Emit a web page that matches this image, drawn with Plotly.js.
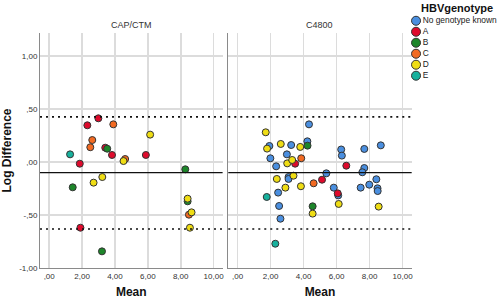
<!DOCTYPE html>
<html>
<head>
<meta charset="utf-8">
<script src="https://cdn.plot.ly/plotly-3.0.1.min.js"></script>
<style>html,body{margin:0;padding:0;background:#fff;}#chart{width:500px;height:300px;}</style>
</head>
<body>
<div id="chart"></div>
<script>
// ---- Data ----
const genotypes = ['No genotype known', 'A', 'B', 'C', 'D', 'E'];
const genoColors = ['#4a8fe0', '#de0a2c', '#1d862a', '#f26a22', '#efdd14', '#17b19d'];
const panelTitles = ['CAP/CTM', 'C4800'];

// CAP/CTM panel
const capMean = [2.32, 2.99, 3.41, 3.82, 5.88, 1.86, 1.90,
                 3.53, 8.28, 1.43, 8.42, 3.21,
                 3.90, 2.62, 2.50, 4.62, 8.50,
                 6.14, 4.52, 3.23, 2.70, 8.42, 8.66, 8.56,
                 1.27];
const capDiff = [0.346, 0.412, 0.135, 0.066, 0.066, -0.016, -0.620,
                 0.125, -0.069, -0.239, -0.371, -0.843,
                 0.355, 0.207, 0.139, 0.028, -0.497,
                 0.258, 0.009, -0.142, -0.195, -0.346, -0.475, -0.620,
                 0.072];
const capGeno = ['A','A','A','A','A','A','A',
                 'B','B','B','B','B',
                 'C','C','C','C','C',
                 'D','D','D','D','D','D','D',
                 'E'];

// C4800 panel
const c48Mean = [4.33, 1.93, 3.25, 4.23, 6.28, 7.68, 8.68, 1.99, 2.99, 6.32, 2.34, 7.68, 7.56, 5.38, 3.09, 3.09, 8.41, 7.98, 5.83, 7.46, 8.48, 8.49, 2.46, 6.10, 2.52, 2.60,
                 3.49, 6.59, 5.12, 6.07,
                 4.24, 4.55,
                 3.86, 4.61,
                 1.71, 1.79, 2.62, 3.80, 3.01, 3.31, 3.39, 2.38, 3.84, 2.90, 6.13, 8.55, 4.55,
                 1.77, 2.29];
const c48Diff = [0.355, 0.151, 0.160, 0.195, 0.118, 0.123, 0.157, 0.035, 0.072, 0.060, -0.041, -0.057, -0.097, -0.107, -0.142, -0.160, -0.163, -0.214, -0.242, -0.242, -0.248, -0.274, -0.289, -0.315, -0.415, -0.535,
                 -0.016, -0.035, -0.167, -0.296,
                 0.154, -0.418,
                 0.035, -0.201,
                 0.280, 0.126, 0.170, 0.142, -0.013, 0.019, -0.129, -0.160, -0.229, -0.242, -0.396, -0.421, -0.487,
                 -0.330, -0.771];
const c48Geno = ['No genotype known','No genotype known','No genotype known','No genotype known','No genotype known','No genotype known','No genotype known','No genotype known','No genotype known','No genotype known','No genotype known','No genotype known','No genotype known','No genotype known','No genotype known','No genotype known','No genotype known','No genotype known','No genotype known','No genotype known','No genotype known','No genotype known','No genotype known','No genotype known','No genotype known','No genotype known',
                 'A','A','A','A',
                 'B','B',
                 'C','C',
                 'D','D','D','D','D','D','D','D','D','D','D','D','D',
                 'E','E'];

// Reference lines: upper limit, mean difference, lower limit
const refLines = [0.425, -0.100, -0.632];
const refDash = ['2px,4px', 'solid', '2px,4px'];

const xTickVals = [0, 2, 4, 6, 8, 10];
const xTickText = [',00', '2,00', '4,00', '6,00', '8,00', '10,00'];
const yTickVals = [1, 0.5, 0, -0.5, -1];
const yTickText = ['1,00', ',50', ',00', '-,50', '-1,00'];

// ---- Build ----
const FONT = 'Liberation Sans, Arial, sans-serif';
const traces = [];
function addPanel(mean, diff, geno, xa, ya) {
  genotypes.forEach((g, gi) => {
    const xs = [], ys = [];
    geno.forEach((v, i) => { if (v === g) { xs.push(mean[i]); ys.push(diff[i]); } });
    if (!xs.length) return;
    traces.push({
      type: 'scatter', mode: 'markers', x: xs, y: ys, xaxis: xa, yaxis: ya,
      name: g, showlegend: false, hoverinfo: 'x+y',
      marker: {size: 7, color: genoColors[gi], line: {color: '#333', width: 1}}
    });
  });
}
addPanel(capMean, capDiff, capGeno, 'x', 'y');
addPanel(c48Mean, c48Diff, c48Geno, 'x2', 'y2');

// legend drawn on its own small category axis
traces.push({
  type: 'scatter', mode: 'markers+text', xaxis: 'x3', yaxis: 'y3',
  x: genotypes.map(() => 0), y: genotypes, text: genotypes,
  textposition: 'middle right', textfont: {family: FONT, size: 8.4, color: '#222'},
  marker: {size: 9, color: genoColors, line: {color: '#333', width: 1}},
  hoverinfo: 'skip', showlegend: false, cliponaxis: false
});

const shapes = [];
[['x domain', 'y'], ['x2 domain', 'y2']].forEach(([xr, yr]) => {
  refLines.forEach((v, i) => {
    shapes.push({type: 'line', xref: xr, yref: yr, x0: 0, x1: 1, y0: v, y1: v,
      line: {color: '#111', width: refDash[i] === 'solid' ? 1.2 : 1.6, dash: refDash[i]}});
  });
});

const gridC = '#dcdcdc';
function xAxis(domain, anchor) {
  return {
    domain: domain, anchor: anchor, range: [-0.56, 10.55],
    tickvals: xTickVals, ticktext: xTickText, ticks: '',
    tickfont: {family: FONT, size: 8, color: '#333'},
    showgrid: true, gridcolor: gridC, gridwidth: 1.6, zeroline: false,
    showline: true, linecolor: '#8a8a8a', linewidth: 1,
    title: {text: 'Mean', font: {family: FONT, size: 12, color: '#111', weight: 'bold'}, standoff: 8}
  };
}
function yAxis(anchor, labels) {
  return {
    domain: [0, 0.877], anchor: anchor, range: [-1, 1.217],
    tickvals: yTickVals, ticktext: yTickText, ticks: '', showticklabels: labels,
    tickfont: {family: FONT, size: 8, color: '#333'},
    showgrid: true, gridcolor: gridC, gridwidth: 1.6, zeroline: false,
    showline: true, linecolor: '#8a8a8a', linewidth: 1
  };
}

const yA = yAxis('x', true);
yA.title = {text: 'Log Difference', font: {family: FONT, size: 12, color: '#111', weight: 'bold'}, standoff: 8};
const yA2 = yAxis('x2', false);
yA2.matches = 'y';

const annotations = [
  {text: panelTitles[0], xref: 'x domain', x: 0.5, yref: 'paper', y: 0.907, showarrow: false,
   font: {family: FONT, size: 9, color: '#333'}, xanchor: 'center', yanchor: 'middle'},
  {text: panelTitles[1], xref: 'x2 domain', x: 0.5, yref: 'paper', y: 0.907, showarrow: false,
   font: {family: FONT, size: 9, color: '#333'}, xanchor: 'center', yanchor: 'middle'},
  {text: 'HBVgenotype', xref: 'paper', x: 0.824, yref: 'paper', y: 0.970, showarrow: false,
   font: {family: FONT, size: 11, color: '#111', weight: 'bold'}, xanchor: 'left', yanchor: 'middle'}
];

const layout = {
  width: 500, height: 300,
  margin: {l: 40, r: 0, t: 0, b: 32, pad: 0},
  paper_bgcolor: '#fff', plot_bgcolor: '#fff',
  showlegend: false,
  font: {family: FONT},
  xaxis: xAxis([0, 0.397], 'y'),
  xaxis2: xAxis([0.4093, 0.808], 'y2'),
  yaxis: yA,
  yaxis2: yA2,
  xaxis3: {domain: [0.8087, 1], anchor: 'y3', range: [-0.048, 1], visible: false, fixedrange: true},
  yaxis3: {domain: [0.697, 0.943], anchor: 'x3', type: 'category', categoryarray: genotypes,
           range: [5.5, -0.5], visible: false, fixedrange: true},
  shapes: shapes,
  annotations: annotations
};

Plotly.newPlot('chart', traces, layout, {staticPlot: true, displayModeBar: false});
</script>
</body>
</html>
